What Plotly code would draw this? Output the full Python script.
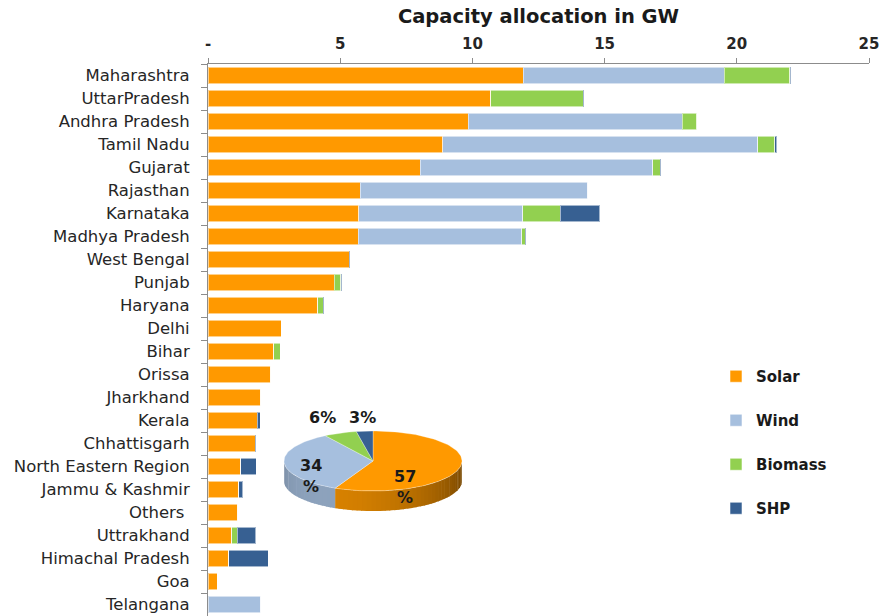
import numpy as np
import plotly.graph_objects as go

# State-wise renewable capacity allocation (GW)
states = [
    "Maharashtra", "UttarPradesh", "Andhra Pradesh", "Tamil Nadu", "Gujarat",
    "Rajasthan", "Karnataka", "Madhya Pradesh", "West Bengal", "Punjab",
    "Haryana", "Delhi", "Bihar", "Orissa", "Jharkhand", "Kerala",
    "Chhattisgarh", "North Eastern Region", "Jammu & Kashmir", "Others\u00a0",
    "Uttrakhand", "Himachal Pradesh", "Goa", "Telangana",
]
solar = [11.926, 10.697, 9.834, 8.884, 8.020, 5.762, 5.697, 5.675, 5.336, 4.772,
         4.142, 2.762, 2.493, 2.377, 1.995, 1.870, 1.783, 1.242, 1.155, 1.130,
         0.900, 0.776, 0.358, 0.0]
wind = [7.6, 0.0, 8.1, 11.9, 8.8, 8.6, 6.2, 6.2, 0.0, 0.0,
        0.0, 0.0, 0.0, 0.0, 0.0, 0.0, 0.0, 0.0, 0.0, 0.0,
        0.0, 0.0, 0.0, 2.0]
biomass = [2.469, 3.499, 0.543, 0.649, 0.288, 0.0, 1.420, 0.118, 0.0, 0.244,
           0.209, 0.0, 0.244, 0.0, 0.0, 0.0, 0.0, 0.0, 0.0, 0.0,
           0.197, 0.0, 0.0, 0.0]
shp = [0.050, 0.025, 0.0, 0.075, 0.025, 0.0, 1.500, 0.025, 0.050, 0.050,
       0.025, 0.0, 0.0, 0.0, 0.010, 0.100, 0.025, 0.580, 0.150, 0.0,
       0.700, 1.500, 0.0, 0.0]

# Overall mix (%)
mix_labels = ["Solar", "Wind", "Biomass", "SHP"]
mix_share = [57, 34, 6, 3]

x_ticks = [0, 5, 10, 15, 20, 25]
x_ticktext = ["-", "5", "10", "15", "20", "25"]

colors = {
    "Solar": (255, 153, 0),
    "Wind": (166, 191, 222),
    "Biomass": (146, 208, 80),
    "SHP": (55, 96, 146),
}


def rgb(c, f=1.0):
    return "rgb({},{},{})".format(*[int(min(255, v * f)) for v in c])


FONT = "DejaVu Sans"

fig = go.Figure()
for name, vals in zip(mix_labels, [solar, wind, biomass, shp]):
    fig.add_trace(go.Bar(
        y=states, x=vals, name=name, orientation="h",
        marker=dict(color=rgb(colors[name]),
                    line=dict(color="rgba(255,255,255,0.55)", width=1)),
        legendgroup=name,
    ))

# ---- elliptical 3-D style pie of the overall mix, drawn on its own axes ----
RX, RY, DEPTH = 89, 30, 20


def rim_pt(theta_deg):
    t = np.radians(theta_deg)
    return RX * np.sin(t), RY * np.cos(t)


bounds = np.concatenate([[0], np.cumsum(mix_share)]) / sum(mix_share) * 360.0

# side wall (front half of the disc, 90..270 deg clockwise from top)
for name, a0, a1 in zip(mix_labels, bounds[:-1], bounds[1:]):
    s0, s1 = max(a0, 90.0), min(a1, 270.0)
    if s1 <= s0:
        continue
    n = max(2, int((s1 - s0) / 3))
    edges = np.linspace(s0, s1, n + 1)
    for e0, e1 in zip(edges[:-1], edges[1:]):
        th = np.linspace(e0, e1 + 0.6 if e1 < s1 else e1, 6)
        xs, ys = rim_pt(th)
        px = np.concatenate([xs, xs[::-1]])
        py = np.concatenate([ys, ys[::-1] - DEPTH])
        shade = 0.6 + 0.25 * np.cos(np.radians((e0 + e1) / 2 - 215))
        fig.add_trace(go.Scatter(
            x=px, y=py, xaxis="x2", yaxis="y2", mode="lines",
            fill="toself", fillcolor=rgb(colors[name], shade),
            line=dict(width=0), hoverinfo="skip", showlegend=False,
        ))

# top face
for name, a0, a1 in zip(mix_labels, bounds[:-1], bounds[1:]):
    th = np.linspace(a0, a1, max(8, int((a1 - a0) / 2)))
    xs, ys = rim_pt(th)
    fig.add_trace(go.Scatter(
        x=np.concatenate([[0], xs, [0]]), y=np.concatenate([[0], ys, [0]]),
        xaxis="x2", yaxis="y2", mode="lines", fill="toself",
        fillcolor=rgb(colors[name]), line=dict(width=0.6, color="rgba(255,255,255,0.5)"),
        hoverinfo="skip", showlegend=False,
    ))

# percentage labels
label_pos = {"Solar": (32, -26, "{}<br>%"), "Wind": (-62, -15, "{}<br>%"),
             "Biomass": (-51, 44, "{}%"), "SHP": (-11, 44, "{}%")}
for name, share in zip(mix_labels, mix_share):
    lx, ly, fmt = label_pos[name]
    fig.add_annotation(
        x=lx, y=ly, xref="x2", yref="y2", text=fmt.format(share), showarrow=False,
        font=dict(family=FONT, size=16, color="#1a1a1a", weight="bold"),
        align="center",
    )

W, H = 886, 616
L, R, T, B = 208, 17, 64, 0
PW, PH = W - L - R, H - T - B


def xdom(p0, p1):
    return [(p0 - L) / PW, (p1 - L) / PW]


def ydom(p_top, p_bot):
    return [(H - B - p_bot) / PH, (H - B - p_top) / PH]


CX, CY = 373, 461
PX0, PX1, PY0, PY1 = 270, 480, 400, 540

fig.update_layout(
    width=W, height=H, margin=dict(l=L, r=R, t=T, b=B),
    paper_bgcolor="white", plot_bgcolor="white",
    barmode="stack", bargap=0.3,
    font=dict(family=FONT, color="#262626"),
    xaxis=dict(
        side="top", range=[0, 25], tickvals=x_ticks, ticktext=x_ticktext,
        showgrid=False, zeroline=False, showline=True, linecolor="#8c8c8c", linewidth=1,
        ticks="outside", ticklen=5, tickcolor="#8c8c8c", ticklabelstandoff=3,
        tickfont=dict(size=15, weight="bold", color="#262626"),
        title=dict(text="Capacity allocation in GW", standoff=6,
                   font=dict(size=19.5, weight="bold", color="#1a1a1a")),
        fixedrange=True,
    ),
    yaxis=dict(
        categoryorder="array", categoryarray=states, autorange="reversed",
        showgrid=False, zeroline=False, showline=True, linecolor="#8c8c8c", linewidth=1,
        ticks="outside", ticklen=6, tickcolor="#8c8c8c", tickson="boundaries",
        ticklabelstandoff=14,
        tickfont=dict(size=16.5, color="#262626"), fixedrange=True,
    ),
    xaxis2=dict(domain=xdom(PX0, PX1), range=[PX0 - CX, PX1 - CX], visible=False,
                anchor="y2", fixedrange=True),
    yaxis2=dict(domain=ydom(PY0, PY1), range=[CY - PY1, CY - PY0], visible=False,
                anchor="x2", fixedrange=True),
    legend=dict(
        x=(716 - L) / PW, y=(H - 360) / PH, xanchor="left", yanchor="top",
        traceorder="grouped", tracegroupgap=21.5, itemwidth=30,
        font=dict(size=15, weight="bold", color="#1a1a1a"),
        bgcolor="rgba(0,0,0,0)",
    ),
    showlegend=True,
)

fig.write_html("out.html")
